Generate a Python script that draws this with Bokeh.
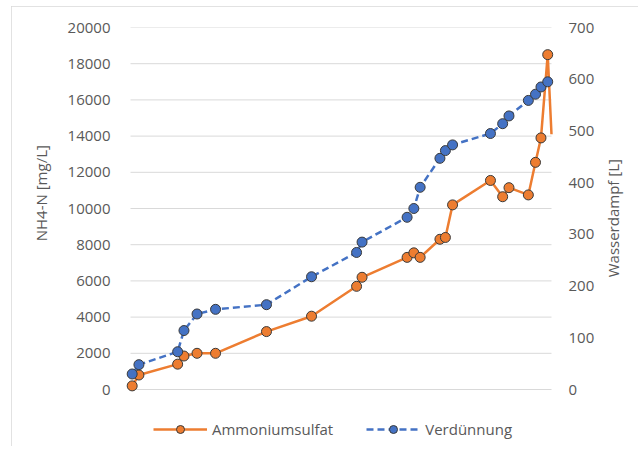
import math
from bokeh.plotting import figure
from bokeh.models import Range1d, LinearAxis, Legend, LegendItem, FixedTicker, ColumnDataSource
from bokeh.embed import file_html
from bokeh.resources import INLINE

# shared (hidden) x positions of the measurements
x_pos = [0.4, 2.0, 11.2, 12.7, 15.8, 20.2, 32.3, 43.0, 53.7, 55.0, 65.7, 67.3, 68.8,
         73.5, 74.8, 76.5, 85.5, 88.4, 89.9, 94.5, 96.2, 97.5, 99.1, 100.0]
# NH4-N [mg/L]
ammoniumsulfat = [200, 800, 1400, 1850, 2000, 2000, 3200, 4050, 5700, 6200, 7300, 7550, 7300,
                  8300, 8400, 10200, 11550, 10650, 11150, 10750, 12550, 13900, 18500, 14100]
# Wasserdampf [L]
verduennung = [30, 48, 73, 114, 146, 155, 164, 218, 265, 285, 333, 350, 391,
               447, 462, 473, 495, 514, 529, 559, 571, 585, 595]
left_ticks = [0, 2000, 4000, 6000, 8000, 10000, 12000, 14000, 16000, 18000, 20000]
right_ticks = [0, 100, 200, 300, 400, 500, 600, 700]
left_title = "NH4-N [mg/L]"
right_title = "Wasserdampf [L]"

FONT = "Open Sans"
GRAY = "#595959"
ORANGE = "#ED7D31"
BLUE = "#4472C4"

# layout (page pixels)
OX, OY = 11, 6                          # chart box offset on the page
W, H = 627, 440                         # chart box size
TOP, AXIS0, BOTTOM = 27, 389, 440       # top of plot, y of value 0, bottom of frame
LEFT0, RIGHT0, XPAD = 130, 551, 7       # x of data extent, marker padding

X0, X1 = 0, 100
xpad = XPAD * (X1 - X0) / (RIGHT0 - LEFT0)
lmax, rmax = left_ticks[-1], right_ticks[-1]
lmin = -lmax * (BOTTOM - AXIS0) / (AXIS0 - TOP)
rmin = -rmax * (BOTTOM - AXIS0) / (AXIS0 - TOP)

p = figure(width=W, height=H, output_backend="svg", toolbar_location=None,
           x_range=Range1d(X0 - xpad, X1 + xpad), y_range=Range1d(lmin, lmax),
           x_axis_location=None, min_border_left=LEFT0 - XPAD - OX,
           min_border_right=OX + W - RIGHT0 - XPAD,
           min_border_top=TOP - OY, min_border_bottom=OY + H - BOTTOM)
p.styles = {"margin-left": f"{OX}px", "margin-top": f"{OY}px",
            "outline": "1px solid #d9d9d9", "outline-offset": "-1px"}
p.outline_line_color = None
p.xgrid.visible = False
p.ygrid.visible = False

# horizontal gridlines spanning the data x extent
p.segment(x0=[X0] * len(left_ticks), x1=[X1] * len(left_ticks), y0=left_ticks, y1=left_ticks,
          line_color="#d9d9d9", line_width=1)

p.extra_y_ranges = {"right": Range1d(rmin, rmax)}

yl = p.yaxis[0]
yl.ticker = FixedTicker(ticks=left_ticks)
yr = LinearAxis(y_range_name="right", ticker=FixedTicker(ticks=right_ticks))
p.add_layout(yr, "right")

# axis titles as single rotated labels (both read bottom-to-top)
tl = LinearAxis(ticker=FixedTicker(ticks=[13500]), major_label_overrides={13500: left_title},
                major_label_orientation=math.pi / 2)
p.add_layout(tl, "left")
tr = LinearAxis(y_range_name="right", ticker=FixedTicker(ticks=[217]),
                major_label_overrides={217: right_title}, major_label_orientation=math.pi / 2)
p.add_layout(tr, "right")

for ax, st in ((yl, 13), (yr, 10), (tl, 23), (tr, 16)):
    ax.axis_line_color = None
    ax.major_tick_line_color = None
    ax.minor_tick_line_color = None
    ax.major_tick_out = 0
    ax.major_tick_in = 0
    ax.minor_tick_out = 0
    ax.major_label_standoff = st
    ax.major_label_text_font = FONT
    ax.major_label_text_font_size = "15px"
    ax.major_label_text_color = GRAY

src_o = ColumnDataSource(dict(x=x_pos, y=ammoniumsulfat))
n = len(verduennung)
src_om = ColumnDataSource(dict(x=x_pos[:n], y=ammoniumsulfat[:n]))
src_b = ColumnDataSource(dict(x=x_pos[:n], y=verduennung))

l_o = p.line("x", "y", source=src_o, line_color=ORANGE, line_width=2.5)
m_o = p.scatter("x", "y", source=src_om, marker="circle", size=10, fill_color=ORANGE,
                line_color="#3a3a3a", line_width=1)
l_b = p.line("x", "y", source=src_b, y_range_name="right", line_color=BLUE, line_width=2.5,
             line_dash="7 4")
m_b = p.scatter("x", "y", source=src_b, y_range_name="right", marker="circle", size=10,
                fill_color=BLUE, line_color="#3a3a3a", line_width=1)

legend = Legend(items=[LegendItem(label="Ammoniumsulfat", renderers=[l_o, m_o]),
                       LegendItem(label="Verdünnung", renderers=[l_b, m_b])],
                orientation="horizontal", location=(30, 1),
                glyph_width=54, glyph_height=20, label_standoff=5, spacing=33,
                padding=0, margin=0, border_line_color=None, background_fill_alpha=0,
                label_text_font=FONT, label_text_font_size="15px", label_text_color=GRAY)
p.add_layout(legend, "center")

open("out.html", "w").write(file_html(p, INLINE))
